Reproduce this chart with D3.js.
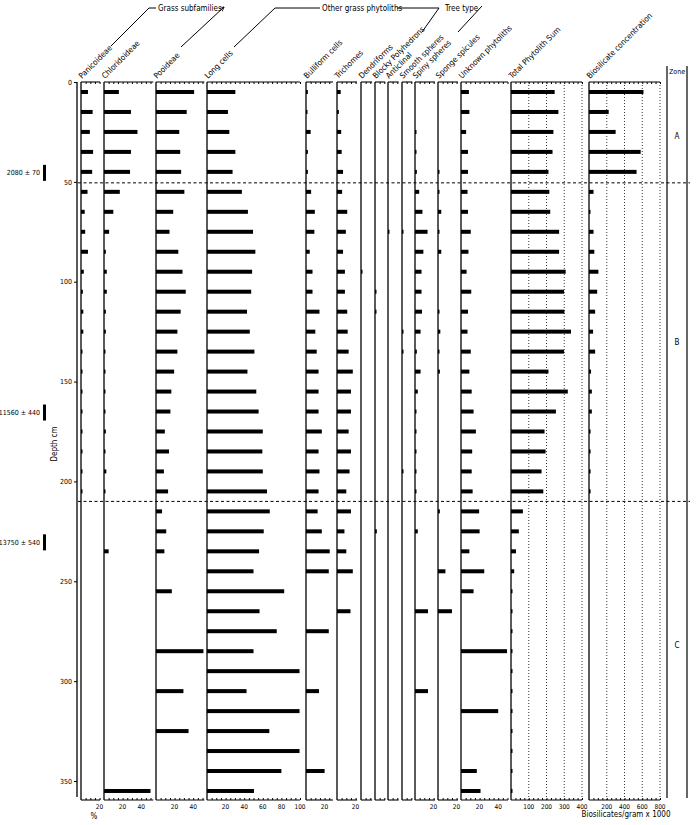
<!DOCTYPE html>
<html><head><meta charset="utf-8">
<script src="https://cdn.jsdelivr.net/npm/d3@7"></script>
<style>
body{margin:0;background:#fff}
svg{display:block}
text{font-family:"Liberation Sans Narrow","DejaVu Sans Condensed","Arial Narrow",sans-serif;fill:#000}
</style>
</head><body>
<svg id="c" width="700" height="825"></svg>
<script>
// ---------------- DATA ----------------
const depths = [5,15,25,35,45,55,65,75,85,95,105,115,125,135,145,155,165,175,185,195,205,215,225,235,245,255,265,275,285,295,305,315,325,335,345,355];
const panicoideae   = [7.5,12.5,9.5,13,12,7,4,4.5,7.5,3,2,2.5,2.5,1,1,1,1,1,1,1,1,0,0,0,0,0,0,0,0,0,0,0,0,0,0,0];
const chloridoideae = [16,29,36,29,28,17,10,5.5,2,3,3,2,2,1,1,1,1,2,1,2.5,1,0,0,5,0,0,0,0,0,0,0,0,0,0,0,50];
const pooideae      = [41,33,25,26,27,30.5,18.5,14.5,24,28.5,32,26.5,23,23,19.5,16.5,15.5,9.5,14,8.5,13,6.5,11,9,0,17,0,0,51,0,29.5,0,35,0,0,0];
const longCells     = [30.5,22.5,24,30.5,27.5,37.5,44,49.5,52,48.5,47.5,43,46,51,43.5,53,55.5,60,59.5,60,64.5,67.5,61,56,50,83,56.5,75,50,99.5,42.5,99.5,67,99.5,80,50.5];
const bulliform     = [2,1.5,5,2,2,5.5,9.5,9,4,7,7,14.5,10,11.5,13.5,13.5,13.5,17,13.5,14.5,13.5,12.5,17,25.5,24.5,0,0,24.5,0,0,14,0,0,0,20,0];
const trichomes     = [4,2,4.5,5,6.5,5.5,11,9.5,6.5,8.5,8.5,11,11.5,12.5,17,15,15,12.5,15,13.5,10,15,8,10,17,0,14.5,0,0,0,0,0,0,0,0,0];
const dendriforms   = [0,0,0,0,0,0,0,0,0,1,0,0,0,0,0,0,0,0,0,0,0,0,0,0,0,0,0,0,0,0,0,0,0,0,0,0];
const blocky        = [0,0,0,0,0,0,0,0,0,0,1,1,0,0,0,0,0,0,0,0,0,0,2,0,0,0,0,0,0,0,0,0,0,0,0,0];
const anticlinal    = [0,0,0,0,0,0,0,1,0,0,0,0,0,0,0,0,0,0,0,0,0,0,0,0,0,0,0,0,0,0,0,0,0,0,0,0];
const smoothSpheres = [0,0,0,0,0,0,0,1,0,0,0,0,1,1,0,0,0,0,0,1,0,0,0,0,0,0,0,0,0,0,0,0,0,0,0,0];
const spinySpheres  = [0,0,1,1,2,4.5,8,13.5,9,7,7,7.5,6,2,6,3,1,1,1,1.5,1.5,0,3,0,0,0,14,0,0,0,14,0,0,0,0,0];
const sponge        = [0,0,0,0,1,1,3.5,1,3.5,0,0,1.5,2.5,1,2,0,0,0,0,0,0,2,0,0,8,0,15,0,0,0,0,0,0,0,0,0];
const unknown       = [8.5,9,5.5,7.5,7.5,7,7.5,10.5,8,6,11,7.5,7,10.5,9,11.5,13.5,16,12,11.5,12.5,19.5,20,9,25,13.5,0,0,49.5,0,0,40,0,0,17,21];
const totalSum      = [246,267,239,234,211,216,221,271,271,308,299,301,338,299,211,320,253,189,195,172,182,67,44,28,18,5,5,5,5,5,5,5,5,5,5,5];
const biosilicate   = [614,222,300,582,536,51,14,51,60,106,92,69,46,69,23,32,32,18,18,18,18,0,0,0,0,0,0,0,0,0,0,0,0,0,0,0];

const panelNames = ["Panicoideae","Chloridoideae","Pooideae","Long cells","Bulliform cells","Trichomes","Dendriforms","Blocky Polyhedrons","Anticlinal","Smooth spheres","Spiny spheres","Sponge spicules","Unknown phytoliths","Total Phytolith Sum","Biosilicate concentration"];
const panelSeries = [panicoideae,chloridoideae,pooideae,longCells,bulliform,trichomes,dendriforms,blocky,anticlinal,smoothSpheres,spinySpheres,sponge,unknown,totalSum,biosilicate];
const panelMax = [20.5,53,52,100,29,21.5,12,11,11.5,11,21.5,21.5,50.5,400,800];
const panelTickLabels = [[20],[20,40],[20,40],[20,40,60,80,100],[20],[20],[],[],[],[],[20],[20],[20,40],[100,200,300,400],[200,400,600,800]];
const panelMinorStep = [5,5,5,5,5,5,5,5,5,5,5,5,5,25,50];

const depthTicks = [0,50,100,150,200,250,300,350];
const dateLabels = ["2080 \u00b1 70","11560 \u00b1 440","13750 \u00b1 540"];
const dateDepths = [45.5,165.5,230.5];
const zoneLabels = ["A","B","C"];
const zoneDepths = [27,130,282];
const zoneBoundaries = [50.5,210];
const groupLabels = ["Grass subfamilies","Other grass phytoliths","Tree type"];

// ---------------- LAYOUT ----------------
const panelLeft = [81,104,156,207,306,337,361,375,388,402,415,438,461,511,589];
const pctPx = 0.93;            // px per percent
const wideWidth = 71;          // width of Total / Biosilicate panels
const gridPanels = [13,14];
const yTop = 82, yBottom = 800;
const barH = 4;

const svg = d3.select("#c");
const defs = svg.append("defs");
defs.append("marker").attr("id","arr").attr("viewBox","0 0 10 10").attr("refX",9).attr("refY",5)
  .attr("markerWidth",5).attr("markerHeight",5).attr("orient","auto")
  .append("path").attr("d","M0,1L10,5L0,9").attr("fill","none").attr("stroke","#000").attr("stroke-width",1.5);

const y = d3.scaleLinear().domain([0,350]).range([82,781]);

// depth axis
const depthAxis = d3.axisLeft(y).tickValues(depthTicks).tickSize(3).tickPadding(2).tickFormat(d3.format("d"));
const ga = svg.append("g").attr("transform","translate(77,0)").call(depthAxis);
ga.select(".domain").attr("d","M0,"+yTop+"V797").attr("stroke","#000").attr("stroke-width",1.3);
ga.selectAll("text").style("font-size","7px");
svg.append("text").attr("transform","translate(57,444) rotate(-90)").attr("text-anchor","middle")
  .style("font-size","8px").text("Depth cm");

// date labels
dateLabels.forEach((t,i)=>{
  const yy = y(dateDepths[i]);
  svg.append("text").attr("x",40).attr("y",yy+2.5).attr("text-anchor","end").style("font-size","7px").text(t);
  svg.append("rect").attr("x",43).attr("y",yy-8).attr("width",3).attr("height",16).attr("fill","#000");
});

// panels
panelNames.forEach((name,i)=>{
  const x0 = panelLeft[i];
  const w = gridPanels.includes(i) ? wideWidth : panelMax[i]*pctPx;
  const x = d3.scaleLinear().domain([0,panelMax[i]]).range([x0,x0+w]);
  const g = svg.append("g");
  if (gridPanels.includes(i)) {
    g.selectAll("line.grid").data(panelTickLabels[i]).join("line")
      .attr("x1",d=>x(d)).attr("x2",d=>x(d)).attr("y1",yTop).attr("y2",yBottom)
      .attr("stroke","#000").attr("stroke-width",0.8).attr("stroke-dasharray","1,2");
  }
  g.append("line").attr("x1",x0).attr("x2",x0).attr("y1",yTop).attr("y2",yBottom)
    .attr("stroke","#000").attr("stroke-width",1.3);
  const minor = d3.range(0, panelMax[i]+0.001, panelMinorStep[i]).filter(v=>v>0);
  const topAx = d3.axisBottom(x).tickValues(minor).tickSize(2).tickFormat("");
  const gt = g.append("g").attr("transform","translate(0,"+yTop+")").call(topAx);
  gt.select(".domain").attr("d","M"+x0+",0H"+(x0+w)).attr("stroke-width",1.1);
  const botAx = d3.axisTop(x).tickValues(minor).tickSize(2).tickFormat("");
  const gb = g.append("g").attr("transform","translate(0,"+yBottom+")").call(botAx);
  gb.select(".domain").attr("d","M"+x0+",0H"+(x0+w)).attr("stroke-width",1.1);
  g.selectAll("text.tl").data(panelTickLabels[i]).join("text").attr("class","tl")
    .attr("x",d=>x(d)).attr("y",yBottom+9).attr("text-anchor","middle").style("font-size","6.5px")
    .text(d=>d);
  const series = panelSeries[i];
  g.selectAll("rect.bar").data(depths.map((d,k)=>({d:d,v:series[k]})).filter(o=>o.v>0)).join("rect")
    .attr("class","bar").attr("x",x0).attr("y",o=>y(o.d)-barH/2)
    .attr("width",o=>Math.max(1.5,x(o.v)-x0)).attr("height",barH).attr("fill","#000");
  svg.append("text").attr("transform","translate("+(x0+1)+","+(yTop-3)+") rotate(-45)")
    .style("font-size","8px").text(name);
});

// zone boundaries
zoneBoundaries.forEach(b=>{
  svg.append("line").attr("x1",78).attr("x2",690).attr("y1",y(b)).attr("y2",y(b))
    .attr("stroke","#000").attr("stroke-width",1).attr("stroke-dasharray","3,2.5");
});

// zone column
svg.append("line").attr("x1",667).attr("x2",667).attr("y1",66).attr("y2",798).attr("stroke","#000").attr("stroke-width",1.2);
svg.append("line").attr("x1",687).attr("x2",687).attr("y1",66).attr("y2",798).attr("stroke","#000").attr("stroke-width",1.2);
svg.append("text").attr("x",677).attr("y",74).attr("text-anchor","middle").style("font-size","7px").text("Zone");
zoneLabels.forEach((z,i)=>{
  svg.append("text").attr("x",677).attr("y",y(zoneDepths[i])+3).attr("text-anchor","middle").style("font-size","8px").text(z);
});

// group headers with leader lines
const lines = [
  [[111,46],[149,8],[156,8]],
  [[234,47],[275,8],[320,8]],
  [[397,8],[439,8],[422,32]],
  [[458,32],[482,6]]
];
lines.forEach(p=>svg.append("path").attr("d",d3.line()(p)).attr("fill","none").attr("stroke","#000").attr("stroke-width",1));
svg.append("path").attr("d",d3.line()([[181,47],[224,7]])).attr("fill","none").attr("stroke","#000").attr("stroke-width",1).attr("marker-end","url(#arr)");
svg.append("text").attr("x",158).attr("y",11).style("font-size","8px").text(groupLabels[0]);
svg.append("text").attr("x",322).attr("y",11).style("font-size","8px").text(groupLabels[1]);
svg.append("text").attr("x",445).attr("y",11).style("font-size","8px").text(groupLabels[2]);

// bottom annotations
svg.append("text").attr("x",94).attr("y",819).attr("text-anchor","middle").style("font-size","8px").text("%");
svg.append("text").attr("x",626).attr("y",817).attr("text-anchor","middle").style("font-size","8px").text("Biosilicates/gram x 1000");
</script>
</body></html>
